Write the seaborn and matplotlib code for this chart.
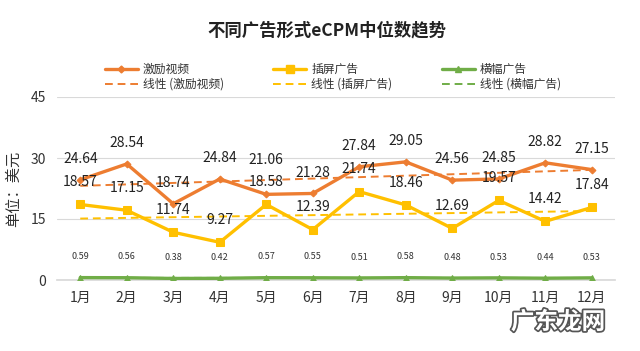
import numpy as np
import pandas as pd
import matplotlib
matplotlib.use("Agg")
import matplotlib.pyplot as plt
import matplotlib.patheffects as pe
import seaborn as sns

months = ["1月", "2月", "3月", "4月", "5月", "6月", "7月", "8月", "9月", "10月", "11月", "12月"]
reward_video = [24.64, 28.54, 18.74, 24.84, 21.06, 21.28, 27.84, 29.05, 24.56, 24.85, 28.82, 27.15]
interstitial = [18.57, 17.15, 11.74, 9.27, 18.58, 12.39, 21.74, 18.46, 12.69, 19.57, 14.42, 17.84]
banner = [0.59, 0.56, 0.38, 0.42, 0.57, 0.55, 0.51, 0.58, 0.48, 0.53, 0.44, 0.53]

names = ["激励视频", "插屏广告", "横幅广告"]
colors = ["#ED7D31", "#FFC000", "#70AD47"]
markers = ["D", "s", "^"]
msizes = [3.5, 5.5, 4.5]

sns.set_theme(style="white")
plt.rcParams["font.family"] = ["Noto Sans CJK SC", "DejaVu Sans"]

df = pd.DataFrame({
    "month": list(range(12)) * 3,
    "value": reward_video + interstitial + banner,
    "series": sum([[n] * 12 for n in names], []),
})

fig = plt.figure(figsize=(6.4, 3.51), dpi=100)
ax = fig.add_axes([57 / 640, 1 - 280 / 351, 558 / 640, 183 / 351])

handles = []
for name, c, m, ms in zip(names, colors, markers, msizes):
    sub = df[df["series"] == name]
    sns.lineplot(data=sub, x="month", y="value", ax=ax, color=c, linewidth=2.4,
                 marker=m, markersize=ms, markeredgecolor=c, legend=False, zorder=3)
    h, = ax.plot([], [], color=c, linewidth=2.4, marker=m, markersize=ms, label=name)
    # linear trendline, like the spreadsheet one
    k, b = np.polyfit(sub["month"], sub["value"], 1)
    xs = np.array([0, 11])
    ax.plot(xs, k * xs + b, color=c, linestyle=(0, (4, 2.5)), linewidth=1.4, zorder=2)
    t, = ax.plot([], [], color=c, linestyle=(0, (4, 2.5)), linewidth=1.4,
                 label=f"线性 ({name})")
    handles += [h, t]

# data labels (the May reward-video label was nudged up in the original)
for i in range(12):
    lift = 25 if i == 4 else 15
    ax.annotate(f"{reward_video[i]:.2f}", (i, reward_video[i]), xytext=(0, lift),
                textcoords="offset points", ha="center", va="center", fontsize=10, color="#222222")
    ax.annotate(f"{interstitial[i]:.2f}", (i, interstitial[i]), xytext=(0, 16),
                textcoords="offset points", ha="center", va="center", fontsize=10, color="#222222")
    ax.annotate(f"{banner[i]:.2f}", (i, banner[i]), xytext=(0, 15),
                textcoords="offset points", ha="center", va="center", fontsize=6.5, color="#333333")

ax.set_xlim(-0.5, 11.5)
ax.set_ylim(0, 45)
ax.set_yticks([0, 15, 30, 45])
ax.set_xticks(range(12))
ax.set_xticklabels(months)
ax.set_xticks(np.arange(-0.5, 12, 1), minor=True)
ax.tick_params(axis="x", which="major", length=0, labelsize=10, colors="#333333", pad=8)
ax.tick_params(axis="x", which="minor", length=4, color="#D9D9D9", direction="out")
ax.tick_params(axis="y", length=0, labelsize=10, colors="#333333", pad=8)
ax.set_xlabel("")
ax.set_ylabel("单位：美元", fontsize=11, color="#333333", labelpad=6)
ax.grid(axis="y", color="#D9D9D9", linewidth=0.8)
ax.grid(axis="x", visible=False)
for s in ["top", "right", "left"]:
    ax.spines[s].set_visible(False)
ax.spines["bottom"].set_color("#D9D9D9")

fig.text(0.511, 1 - 30 / 351, "不同广告形式eCPM中位数趋势", ha="center", va="center",
         fontsize=12.5, fontweight="bold", color="#222222")

fig.legend(handles=handles, ncol=3, loc="center", bbox_to_anchor=(0.52, 1 - 77 / 351),
           frameon=False, fontsize=8.5, handlelength=2.8, columnspacing=4.2,
           labelspacing=0.15, handletextpad=0.4, labelcolor="#333333")

fig.text(558 / 640, 1 - 322 / 351, "广东龙网", ha="center", va="center", fontsize=17,
         color="white", fontweight="bold",
         path_effects=[pe.withStroke(linewidth=2.5, foreground="#555555")])

fig.savefig("out.png", dpi=100)
